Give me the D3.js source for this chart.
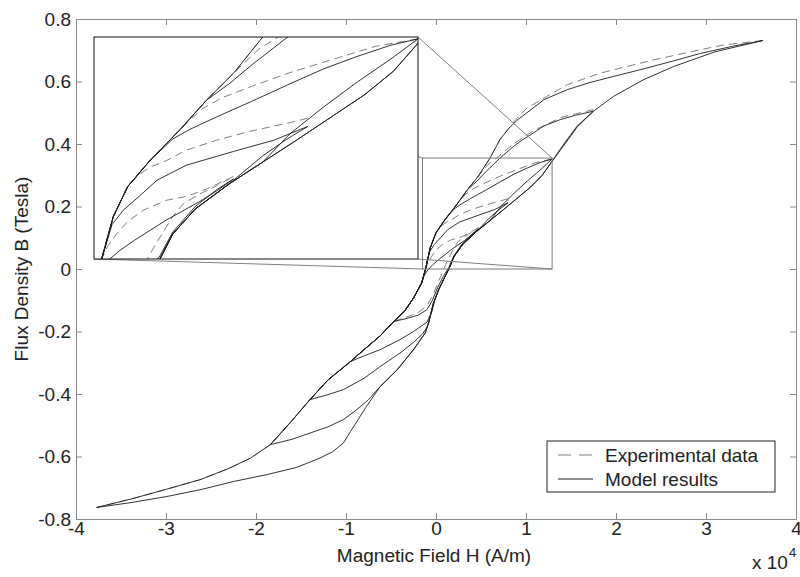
<!DOCTYPE html>
<html><head><meta charset="utf-8">
<script src="https://cdn.jsdelivr.net/npm/d3@7"></script>
<style>
body{margin:0;background:#fff}
text{font-family:"Liberation Sans",Arial,Helvetica,sans-serif}
</style>
</head><body>
<svg id="chart" width="800" height="577"></svg>
<script>
// ---------- data (H in 1e4 A/m, B in Tesla) ----------
const xTickValues = [-4,-3,-2,-1,0,1,2,3,4];
const xTickLabels = ["-4","-3","-2","-1","0","1","2","3","4"];
const yTickValues = [-0.8,-0.6,-0.4,-0.2,0,0.2,0.4,0.6,0.8];
const yTickLabels = ["-0.8","-0.6","-0.4","-0.2","0","0.2","0.4","0.6","0.8"];
const xLabel = "Magnetic Field H (A/m)";
const yLabel = "Flux Density B (Tesla)";
const xExpBase = "x 10";
const xExpPower = "4";
const seriesNames = ["Experimental data","Model results"];
const zoomH = [-0.15, 1.29];
const zoomB = [0, 0.355];
const posTipsH = [1.75, 1.29, 0.80, 0.47];
const negTipsH = [-1.84, -1.40, -0.95, -0.47];

// major loop, descending branch (model)
const descMajor = [[3.63,0.731],[3.3,0.713],[2.94,0.690],[2.64,0.666],[2.3,0.640],[1.97,0.616],[1.7,0.596],[1.46,0.574],[1.20,0.542],[1.01,0.500],[0.90,0.476],[0.80,0.447],[0.71,0.414],[0.60,0.355],[0.47,0.297],[0.35,0.254],[0.23,0.206],[0.10,0.158],[0.00,0.116],[-0.064,0.068],[-0.116,0.0],[-0.16,-0.045],[-0.25,-0.093],[-0.35,-0.135],[-0.47,-0.168],[-0.62,-0.214],[-0.80,-0.258],[-0.95,-0.296],[-1.20,-0.355],[-1.40,-0.418],[-1.60,-0.485],[-1.84,-0.562],[-2.06,-0.605],[-2.30,-0.638],[-2.62,-0.674],[-3.01,-0.706],[-3.40,-0.737],[-3.77,-0.763]];
// major loop, ascending branch (model)
const ascMajor = [[-3.77,-0.763],[-3.40,-0.748],[-2.99,-0.728],[-2.60,-0.705],[-2.25,-0.680],[-1.88,-0.658],[-1.55,-0.635],[-1.29,-0.605],[-1.15,-0.585],[-1.03,-0.557],[-0.95,-0.520],[-0.78,-0.443],[-0.62,-0.376],[-0.43,-0.322],[-0.25,-0.258],[-0.12,-0.205],[-0.08,-0.170],[-0.03,-0.110],[0.03,-0.066],[0.09,-0.030],[0.143,0.0],[0.20,0.040],[0.30,0.080],[0.45,0.120],[0.60,0.155],[0.75,0.190],[0.90,0.226],[1.05,0.262],[1.18,0.300],[1.29,0.345],[1.42,0.395],[1.57,0.455],[1.75,0.505],[1.97,0.552],[2.30,0.605],[2.64,0.648],[3.10,0.695],[3.63,0.731]];
// experimental descending branch, upper part
const descMajorExpHead = [[3.63,0.731],[3.20,0.717],[2.94,0.702],[2.40,0.668],[1.83,0.627],[1.46,0.590],[1.23,0.552],[1.01,0.515],[0.90,0.483]];

// minor loops: descending curves from positive tips (model)
const r1Head = [[1.75,0.505],[1.55,0.492],[1.38,0.478],[1.20,0.458],[1.08,0.435],[0.96,0.413],[0.86,0.392],[0.70,0.352],[0.55,0.31],[0.45,0.28]];
const r2Head = [[1.29,0.352],[1.17,0.342],[1.02,0.324],[0.87,0.304],[0.72,0.28],[0.55,0.252],[0.40,0.228],[0.28,0.208],[0.20,0.192]];
const r3Head = [[0.80,0.212],[0.65,0.19],[0.47,0.172],[0.26,0.150],[0.13,0.126],[0.05,0.10],[-0.02,0.078],[-0.07,0.055]];
const r4Head = [[0.47,0.128],[0.40,0.11],[0.32,0.092],[0.25,0.078],[0.17,0.062],[0.10,0.046],[0.03,0.03],[-0.034,0.014],[-0.09,-0.003],[-0.13,-0.02]];
// minor loops: ascending curves from negative tips (model)
const q1Head = [[-1.84,-0.562],[-1.60,-0.545],[-1.40,-0.525],[-1.20,-0.505],[-1.03,-0.482],[-0.88,-0.450],[-0.75,-0.418]];
const q1Tail = [[1.42,0.400],[1.57,0.458],[1.75,0.505]];
const q2Head = [[-1.40,-0.418],[-1.20,-0.402],[-1.03,-0.386],[-0.80,-0.350],[-0.62,-0.312],[-0.40,-0.269],[-0.25,-0.235],[-0.15,-0.208],[-0.10,-0.186]];
const q2Tail = [[0.72,0.20],[0.87,0.243],[1.02,0.283],[1.17,0.320],[1.29,0.352]];
const q3Head = [[-0.95,-0.296],[-0.80,-0.278],[-0.62,-0.258],[-0.40,-0.226],[-0.25,-0.200],[-0.10,-0.170],[-0.05,-0.140],[-0.01,-0.097]];
const q3Tail = [[0.60,0.165],[0.70,0.19],[0.80,0.212]];
const q4 = [[-0.47,-0.168],[-0.35,-0.160],[-0.20,-0.148],[-0.10,-0.13],[-0.04,-0.10],[0.02,-0.058],[0.08,-0.024],[0.143,0.005],[0.20,0.043],[0.30,0.084],[0.40,0.112],[0.47,0.128]];

// experimental minor-loop curves
const r1ExpHead = [[1.75,0.51],[1.40,0.486],[1.10,0.445],[0.86,0.400],[0.70,0.362],[0.58,0.335]];
const r2ExpHead = [[1.29,0.352],[1.10,0.340],[0.90,0.318],[0.72,0.298],[0.55,0.276],[0.42,0.258],[0.33,0.240]];
const r3ExpHead = [[0.80,0.225],[0.72,0.218],[0.54,0.204],[0.395,0.19],[0.26,0.174],[0.17,0.157],[0.10,0.147],[0.05,0.135]];
const r4ExpHead = [[0.47,0.132],[0.351,0.112],[0.26,0.10],[0.173,0.094],[0.069,0.078],[0.0,0.06],[-0.05,0.04],[-0.09,0.02]];
const q4Exp = [[-0.47,-0.168],[-0.35,-0.156],[-0.20,-0.14],[-0.10,-0.118],[-0.03,-0.08],[0.05,-0.025],[0.11,0.015],[0.157,0.043],[0.20,0.068],[0.246,0.088],[0.32,0.104],[0.40,0.118],[0.47,0.132]];

// ---------- build composite curves ----------
function along(branch, from, to, inclEnd) {
  if (from > to) return branch.filter(p => p[0] < from && (inclEnd ? p[0] >= to : p[0] > to));
  return branch.filter(p => p[0] > from && (inclEnd ? p[0] <= to : p[0] < to));
}
const lastH = a => a[a.length-1][0];
const firstH = a => a[0][0];

const modelCurves = [
  descMajor,
  ascMajor,
  r1Head.concat(along(descMajor, lastH(r1Head), negTipsH[0], true)),
  r2Head.concat(along(descMajor, lastH(r2Head), negTipsH[1], true)),
  r3Head.concat(along(descMajor, lastH(r3Head), negTipsH[2], true)),
  r4Head.concat(along(descMajor, lastH(r4Head), negTipsH[3], true)),
  q1Head.concat(along(ascMajor, lastH(q1Head), firstH(q1Tail), false), q1Tail),
  q2Head.concat(along(ascMajor, lastH(q2Head), firstH(q2Tail), false), q2Tail),
  q3Head.concat(along(ascMajor, lastH(q3Head), firstH(q3Tail), false), q3Tail),
  q4
];
const expCurves = [
  descMajorExpHead.concat(along(descMajor, lastH(descMajorExpHead), -3.77, true)),
  r1ExpHead.concat(along(descMajor, lastH(r1ExpHead), negTipsH[0], true)),
  r2ExpHead.concat(along(descMajor, lastH(r2ExpHead), negTipsH[1], true)),
  r3ExpHead.concat(along(descMajor, lastH(r3ExpHead), negTipsH[2], true)),
  r4ExpHead.concat(along(descMajor, lastH(r4ExpHead), negTipsH[3], true)),
  q4Exp
];

// ---------- layout ----------
const svg = d3.select("#chart");
const W = 800, H = 577;
const plot = {left:76, right:796, top:19, bottom:519};
const inset = {left:94, right:418, top:37, bottom:259};
const AXIS_COLOR = "#8a8a8a", TEXT_COLOR = "#222", MODEL_COLOR = "#1c1c1c", EXP_COLOR = "#808080";
const FONT = 19;
const EXP_DASH = "8,5";

const x = d3.scaleLinear().domain([xTickValues[0], xTickValues[xTickValues.length-1]]).range([plot.left, plot.right]);
const y = d3.scaleLinear().domain([yTickValues[0], yTickValues[yTickValues.length-1]]).range([plot.bottom, plot.top]);

svg.append("rect").attr("width", W).attr("height", H).attr("fill", "#fff");

// axes (box with inward ticks)
function styleAxis(g) {
  g.selectAll(".domain").attr("stroke", AXIS_COLOR).attr("stroke-width", 1);
  g.selectAll(".tick line").attr("stroke", AXIS_COLOR).attr("stroke-width", 1);
  g.selectAll(".tick text").attr("fill", TEXT_COLOR).style("font-size", FONT + "px");
}
svg.append("g").attr("transform", `translate(0,${plot.bottom})`)
  .call(d3.axisBottom(x).tickValues(xTickValues).tickFormat((d,i) => xTickLabels[i]).tickSize(-6).tickSizeOuter(0).tickPadding(2))
  .call(styleAxis);
svg.append("g").attr("transform", `translate(0,${plot.top})`)
  .call(d3.axisTop(x).tickValues(xTickValues).tickFormat("").tickSize(-6).tickSizeOuter(0))
  .call(styleAxis);
svg.append("g").attr("transform", `translate(${plot.left},0)`)
  .call(d3.axisLeft(y).tickValues(yTickValues).tickFormat((d,i) => yTickLabels[i]).tickSize(-6).tickSizeOuter(0).tickPadding(5))
  .call(styleAxis);
svg.append("g").attr("transform", `translate(${plot.right},0)`)
  .call(d3.axisRight(y).tickValues(yTickValues).tickFormat("").tickSize(-6).tickSizeOuter(0))
  .call(styleAxis);
svg.selectAll("g .tick text").attr("font-family", '"Liberation Sans",Arial,sans-serif');

// axis labels
svg.append("text").attr("x", 434).attr("y", 562).attr("text-anchor", "middle")
  .attr("fill", TEXT_COLOR).style("font-size", FONT + "px").text(xLabel);
svg.append("text").attr("transform", `translate(28,${(plot.top+plot.bottom)/2}) rotate(-90)`).attr("text-anchor", "middle")
  .attr("fill", TEXT_COLOR).style("font-size", FONT + "px").text(yLabel);
svg.append("text").attr("x", 752).attr("y", 569).attr("fill", TEXT_COLOR).style("font-size", FONT + "px").text(xExpBase);
svg.append("text").attr("x", 789).attr("y", 557).attr("fill", TEXT_COLOR).style("font-size", "13px").text(xExpPower);

// curves drawer
function drawCurves(g, xs, ys) {
  const line = d3.line().x(d => xs(d[0])).y(d => ys(d[1]));
  g.selectAll("path.exp").data(expCurves).join("path").attr("class", "exp")
    .attr("d", line).attr("fill", "none").attr("stroke", EXP_COLOR).attr("stroke-width", 1)
    .attr("stroke-dasharray", EXP_DASH);
  g.selectAll("path.model").data(modelCurves).join("path").attr("class", "model")
    .attr("d", line).attr("fill", "none").attr("stroke", MODEL_COLOR).attr("stroke-width", 0.9);
}

// main curves
const mainG = svg.append("g");
drawCurves(mainG, x, y);

// zoom rectangle
const zr = {l: x(zoomH[0]), r: x(zoomH[1]), t: y(zoomB[1]), b: y(zoomB[0])};
svg.append("rect").attr("x", zr.l).attr("y", zr.t).attr("width", zr.r - zr.l).attr("height", zr.b - zr.t)
  .attr("fill", "none").attr("stroke", "#7a7a7a").attr("stroke-width", 1);

// connector lines (corresponding corners)
const connectors = [
  [[zr.l, zr.t], [inset.left, inset.top]],
  [[zr.r, zr.t], [inset.right, inset.top]],
  [[zr.l, zr.b], [inset.left, inset.bottom]],
  [[zr.r, zr.b], [inset.right, inset.bottom]]
];
svg.selectAll("line.conn").data(connectors).join("line").attr("class", "conn")
  .attr("x1", d => d[0][0]).attr("y1", d => d[0][1]).attr("x2", d => d[1][0]).attr("y2", d => d[1][1])
  .attr("stroke", "#808080").attr("stroke-width", 1);

// inset
const xi = d3.scaleLinear().domain(zoomH).range([inset.left, inset.right]);
const yi = d3.scaleLinear().domain(zoomB).range([inset.bottom, inset.top]);
svg.append("defs").append("clipPath").attr("id", "insetClip").append("rect")
  .attr("x", inset.left).attr("y", inset.top).attr("width", inset.right - inset.left).attr("height", inset.bottom - inset.top);
svg.append("rect").attr("x", inset.left).attr("y", inset.top)
  .attr("width", inset.right - inset.left).attr("height", inset.bottom - inset.top).attr("fill", "#fff");
const insetG = svg.append("g").attr("clip-path", "url(#insetClip)");
drawCurves(insetG, xi, yi);
svg.append("rect").attr("x", inset.left).attr("y", inset.top)
  .attr("width", inset.right - inset.left).attr("height", inset.bottom - inset.top)
  .attr("fill", "none").attr("stroke", "#111").attr("stroke-width", 1);

// legend
const lg = svg.append("g");
lg.append("rect").attr("x", 547).attr("y", 441).attr("width", 228).attr("height", 51)
  .attr("fill", "#fff").attr("stroke", "#222").attr("stroke-width", 1);
const legendRows = [
  {name: seriesNames[0], color: EXP_COLOR, dash: "13,8", y: 455},
  {name: seriesNames[1], color: MODEL_COLOR, dash: null, y: 479}
];
legendRows.forEach(r => {
  lg.append("line").attr("x1", 558).attr("x2", 593).attr("y1", r.y).attr("y2", r.y)
    .attr("stroke", r.color).attr("stroke-width", 1).attr("stroke-dasharray", r.dash);
  lg.append("text").attr("x", 605).attr("y", r.y + 6.5).attr("fill", TEXT_COLOR)
    .style("font-size", FONT + "px").text(r.name);
});
</script>
</body></html>
